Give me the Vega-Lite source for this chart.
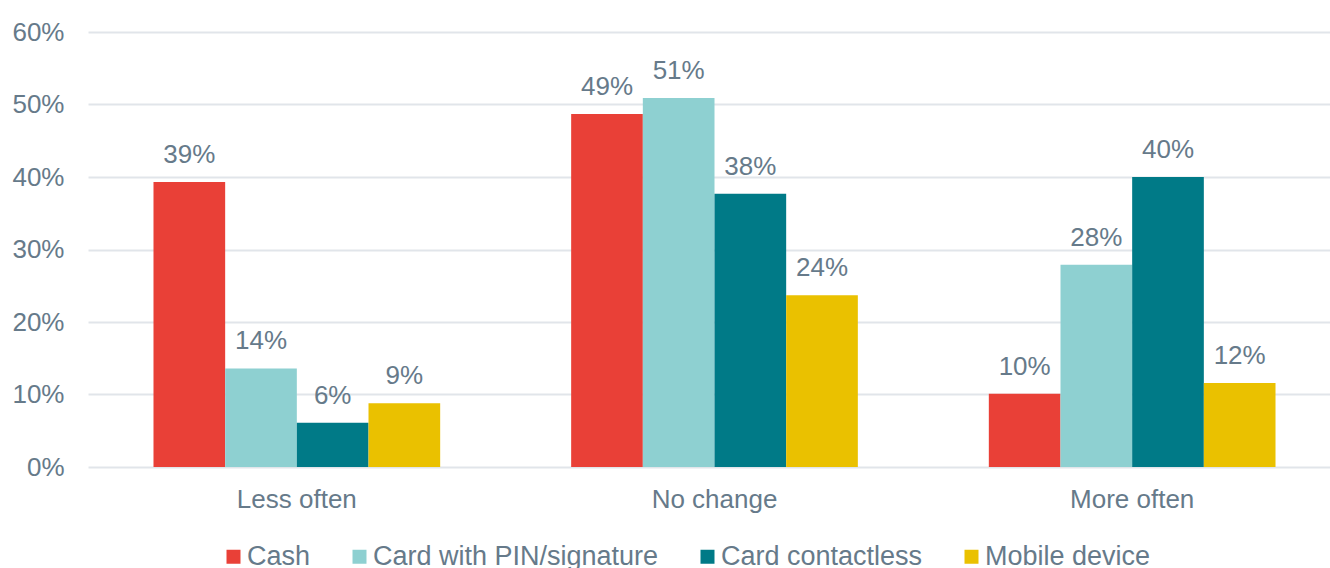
{
  "$schema": "https://vega.github.io/schema/vega-lite/v6.json",
  "autosize": {"type": "none"},
  "padding": {"left": 88, "top": 32, "right": 0, "bottom": 101},
  "width": 1253,
  "height": 435,
  "background": "white",
  "config": {
    "view": {"stroke": null},
    "font": "Liberation Sans",
    "axis": {"labelFont": "Liberation Sans", "labelColor": "#667A8A", "labelFontSize": 26}
  },
  "data": {
    "values": [
      {"change": "Less often", "method": "Cash", "value": 0.393},
      {"change": "Less often", "method": "Card with PIN/signature", "value": 0.136},
      {"change": "Less often", "method": "Card contactless", "value": 0.061},
      {"change": "Less often", "method": "Mobile device", "value": 0.088},
      {"change": "No change", "method": "Cash", "value": 0.487},
      {"change": "No change", "method": "Card with PIN/signature", "value": 0.509},
      {"change": "No change", "method": "Card contactless", "value": 0.377},
      {"change": "No change", "method": "Mobile device", "value": 0.237},
      {"change": "More often", "method": "Cash", "value": 0.101},
      {"change": "More often", "method": "Card with PIN/signature", "value": 0.279},
      {"change": "More often", "method": "Card contactless", "value": 0.4},
      {"change": "More often", "method": "Mobile device", "value": 0.116}
    ]
  },
  "encoding": {
    "x": {
      "field": "change", "type": "nominal",
      "sort": ["Less often", "No change", "More often"],
      "scale": {"paddingInner": 0.3136, "paddingOuter": 0.1568},
      "axis": {"title": null, "labelAngle": 0, "domain": false, "ticks": false, "labelPadding": 19, "grid": false}
    },
    "xOffset": {
      "field": "method", "type": "nominal",
      "sort": ["Cash", "Card with PIN/signature", "Card contactless", "Mobile device"],
      "scale": {"paddingInner": 0, "paddingOuter": 0}
    },
    "y": {
      "field": "value", "type": "quantitative",
      "scale": {"domain": [0, 0.6], "nice": false},
      "axis": {"title": null, "format": ".0%", "values": [0, 0.1, 0.2, 0.3, 0.4, 0.5, 0.6], "domain": false, "ticks": false, "labelPadding": 24, "grid": true, "gridColor": "#E1E5EA", "gridWidth": 2}
    }
  },
  "layer": [
    {
      "mark": {"type": "bar"},
      "encoding": {
        "color": {
          "field": "method", "type": "nominal",
          "sort": ["Cash", "Card with PIN/signature", "Card contactless", "Mobile device"],
          "scale": {"domain": ["Cash", "Card with PIN/signature", "Card contactless", "Mobile device"], "range": ["#E94037", "#8ED0D1", "#007A87", "#EAC100"]},
          "legend": {
            "title": null, "orient": "none", "direction": "horizontal",
            "legendX": 132, "legendY": 511,
            "symbolType": "square", "symbolSize": 196, "symbolStrokeWidth": 0,
            "labelFont": "Liberation Sans", "labelFontSize": 27, "labelColor": "#667A8A",
            "labelOffset": 0, "columnPadding": 35, "labelLimit": 600
          }
        }
      }
    },
    {
      "mark": {"type": "text", "baseline": "alphabetic", "dy": -19, "fontSize": 26, "color": "#667A8A", "font": "Liberation Sans"},
      "encoding": {
        "text": {"field": "value", "type": "quantitative", "format": ".0%"}
      }
    }
  ]
}
